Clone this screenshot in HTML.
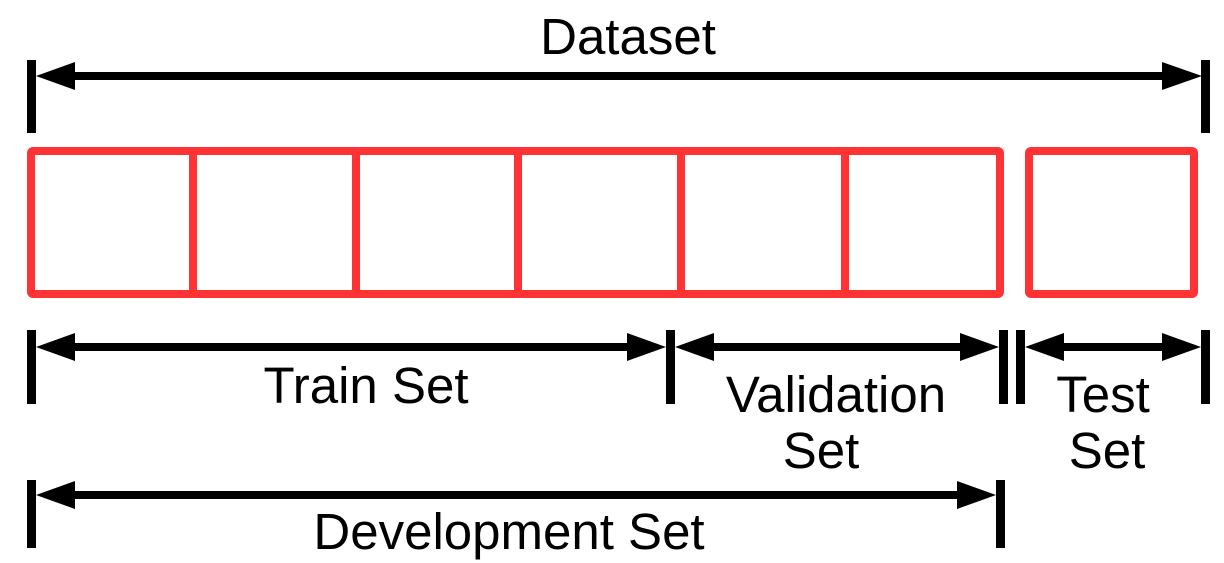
<!DOCTYPE html>
<html><head><meta charset="utf-8"><style>
html,body{margin:0;padding:0;background:#fff;}
svg{display:block;}
text{font-family:"Liberation Sans",sans-serif;font-size:51px;fill:#000;text-anchor:middle;}
</style></head><body>
<svg width="1224" height="563" viewBox="0 0 1224 563" xmlns="http://www.w3.org/2000/svg">
<g fill="none" stroke="#ff3333" stroke-width="8" stroke-linejoin="round">
<rect x="31" y="151" width="969" height="143" rx="2"/>
<line x1="193" y1="151" x2="193" y2="294"/>
<line x1="356" y1="151" x2="356" y2="294"/>
<line x1="518" y1="151" x2="518" y2="294"/>
<line x1="681" y1="151" x2="681" y2="294"/>
<line x1="845" y1="151" x2="845" y2="294"/>
<rect x="1029" y="151" width="165" height="143" rx="2"/>
</g>
<g fill="#000">
<rect x="27" y="60" width="9" height="73"/>
<rect x="1201" y="60" width="9" height="73"/>
<rect x="70" y="72" width="1096" height="8"/>
<polygon points="36,76 75,62 75,90"/>
<polygon points="1202,76 1162,62 1162,90"/>
<rect x="27" y="330" width="9" height="74"/>
<rect x="666" y="330" width="9" height="74"/>
<rect x="70" y="343" width="562" height="8"/>
<polygon points="36,347 75,333 75,361"/>
<polygon points="666,347 627,333 627,361"/>
<rect x="999" y="330" width="9" height="74"/>
<rect x="710" y="343" width="254" height="8"/>
<polygon points="675,347 714,333 714,361"/>
<polygon points="999,347 960,333 960,361"/>
<rect x="1016" y="330" width="9" height="74"/>
<rect x="1201" y="330" width="9" height="74"/>
<rect x="1060" y="343" width="106" height="8"/>
<polygon points="1025,347 1064,333 1064,361"/>
<polygon points="1201,347 1162,333 1162,361"/>
<rect x="27" y="480" width="9" height="68"/>
<rect x="996" y="480" width="9" height="68"/>
<rect x="70" y="491" width="894" height="8"/>
<polygon points="36,495 75,481 75,509"/>
<polygon points="996,495 957,481 957,509"/>
</g>
<text x="628" y="54">Dataset</text>
<text x="366" y="403">Train Set</text>
<text x="836" y="412">Validation</text>
<text x="821" y="468">Set</text>
<text x="1103" y="412">Test</text>
<text x="1107" y="468">Set</text>
<text x="509" y="549">Development Set</text>
</svg>
</body></html>
